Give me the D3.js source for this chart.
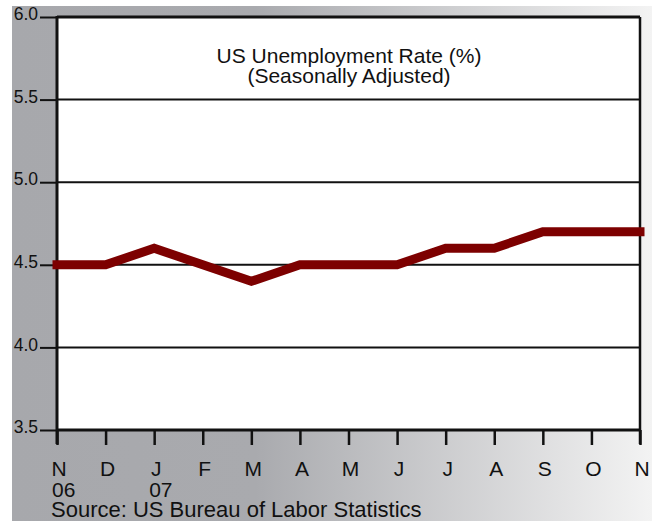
<!DOCTYPE html>
<html>
<head>
<meta charset="utf-8">
<script src="https://cdn.jsdelivr.net/npm/d3@7"></script>
<style>
  body { margin: 0; background: #fff; }
  svg { display: block; }
</style>
</head>
<body>
<svg id="chart" width="652" height="521"></svg>
<script>
const months = ['N', 'D', 'J', 'F', 'M', 'A', 'M', 'J', 'J', 'A', 'S', 'O', 'N'];
const years = ['06', '', '07', '', '', '', '', '', '', '', '', '', ''];
const rates = [4.5, 4.5, 4.6, 4.5, 4.4, 4.5, 4.5, 4.5, 4.6, 4.6, 4.7, 4.7, 4.7];
const yTicks = [3.5, 4.0, 4.5, 5.0, 5.5, 6.0];

const svg = d3.select('#chart');
const font = '"Liberation Sans", Arial, Helvetica, sans-serif';

const margin = {left: 57, right: 12, top: 17, bottom: 91};
const width = 652, height = 521;

// background gradient
const defs = svg.append('defs');
const grad = defs.append('linearGradient')
  .attr('id', 'bg')
  .attr('x1', 0).attr('x2', 1).attr('y1', 0).attr('y2', 0);
grad.append('stop').attr('offset', '0%').attr('stop-color', '#a7a8ac');
grad.append('stop').attr('offset', '38%').attr('stop-color', '#a9aaae');
grad.append('stop').attr('offset', '100%').attr('stop-color', '#f3f3f3');

svg.append('rect')
  .attr('x', 12).attr('y', 6)
  .attr('width', width - 12).attr('height', height - 6)
  .attr('fill', 'url(#bg)');

const x = d3.scalePoint()
  .domain(d3.range(months.length))
  .range([margin.left, width - margin.right]);

const y = d3.scaleLinear()
  .domain([3.5, 6.0])
  .range([height - margin.bottom, margin.top]);

// plot area
svg.append('rect')
  .attr('x', margin.left).attr('y', margin.top)
  .attr('width', width - margin.right - margin.left)
  .attr('height', y(3.5) - y(6.0))
  .attr('fill', '#fff');

// gridlines
svg.append('g')
  .selectAll('line')
  .data(yTicks)
  .join('line')
  .attr('x1', margin.left).attr('x2', width - margin.right)
  .attr('y1', d => y(d)).attr('y2', d => y(d))
  .attr('stroke', '#111')
  .attr('stroke-width', d => (d === 6.0 || d === 3.5) ? 3 : 2);

// right border
svg.append('line')
  .attr('x1', width - margin.right).attr('x2', width - margin.right)
  .attr('y1', y(6.0)).attr('y2', y(3.5) + 14)
  .attr('stroke', '#111').attr('stroke-width', 2.5);

// left axis
const yAxis = svg.append('g')
  .attr('transform', `translate(${margin.left},0)`)
  .call(d3.axisLeft(y).tickValues(yTicks).tickFormat(d3.format('.1f')).tickSize(17).tickSizeOuter(0));
yAxis.select('.domain').remove();
yAxis.selectAll('.tick line').attr('stroke', '#111').attr('stroke-width', 2);
yAxis.selectAll('.tick text')
  .attr('x', -19)
  .attr('dy', '0.15em')
  .attr('fill', '#111')
  .attr('font-family', font)
  .attr('font-size', 17.5);
svg.append('line')
  .attr('x1', margin.left).attr('x2', margin.left)
  .attr('y1', y(6.0) - 1).attr('y2', y(3.5) + 14)
  .attr('stroke', '#111').attr('stroke-width', 3);

// bottom axis ticks
const xAxis = svg.append('g')
  .attr('transform', `translate(0,${y(3.5)})`)
  .call(d3.axisBottom(x).tickSize(15).tickSizeOuter(0).tickFormat(''));
xAxis.select('.domain').remove();
xAxis.selectAll('.tick line').attr('stroke', '#111').attr('stroke-width', 2.5);

const labels = svg.append('g')
  .attr('font-family', font)
  .attr('font-size', 21)
  .attr('fill', '#111');
labels.selectAll('text.month')
  .data(months)
  .join('text')
  .attr('class', 'month')
  .attr('x', (d, i) => x(i) + 2)
  .attr('y', 476)
  .attr('text-anchor', 'middle')
  .text(d => d);
labels.selectAll('text.year')
  .data(years)
  .join('text')
  .attr('class', 'year')
  .attr('x', (d, i) => x(i) - 5)
  .attr('y', 497)
  .text(d => d);
labels.append('text')
  .attr('x', 51)
  .attr('y', 517)
  .attr('font-size', 22)
  .text('Source: US Bureau of Labor Statistics');

// title
const title = svg.append('g')
  .attr('font-family', font)
  .attr('font-size', 21)
  .attr('fill', '#111')
  .attr('text-anchor', 'middle');
title.append('text').attr('x', 349).attr('y', 63).text('US Unemployment Rate (%)');
title.append('text').attr('x', 349).attr('y', 83).text('(Seasonally Adjusted)');

// data line
const line = d3.line()
  .x((d, i) => x(i))
  .y(d => y(d));
svg.append('path')
  .datum(rates)
  .attr('d', line)
  .attr('fill', 'none')
  .attr('stroke', '#7d0000')
  .attr('stroke-width', 9)
  .attr('stroke-linecap', 'square')
  .attr('stroke-linejoin', 'miter');
</script>
</body>
</html>
